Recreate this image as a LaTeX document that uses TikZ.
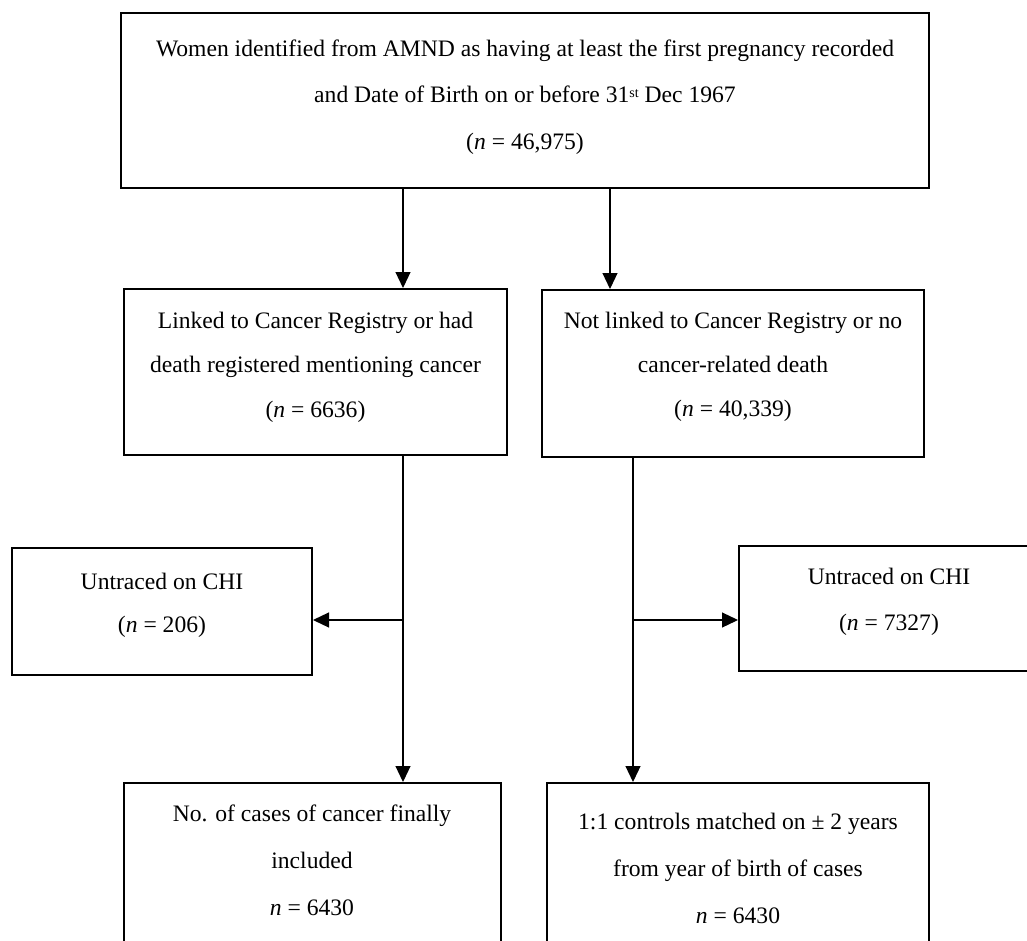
\documentclass[tikz,border=0pt]{standalone}
\usepackage{fontspec}
\setmainfont{Liberation Serif}
\usetikzlibrary{arrows.meta,fit}
\tikzset{
  boxnode/.style={draw=black, line width=1pt, inner sep=0pt, fill=none},
  txt/.style={align=center, inner sep=0pt, font=\fontsize{11.8}{#1}\selectfont},
  arr/.style={draw=black, line width=0.6pt, -{Triangle[length=8pt,width=7.5pt]}}
}
\begin{document}
\begin{tikzpicture}[x=0.5pt,y=-0.5pt]
\useasboundingbox (0,0) rectangle (1027,941);
\clip (0,0) rectangle (1027,941);
\fill[white] (0,0) rectangle (1027,941);
% boxes
\node[boxnode, fit={(121,13) (929,188)}] (top) {};
\node[boxnode, fit={(124,289) (507,455)}] (L2) {};
\node[boxnode, fit={(542,290) (924,457)}] (R2) {};
\node[boxnode, fit={(12,548) (312,675)}] (UL) {};
\node[boxnode, fit={(739,546) (1040,671)}] (UR) {};
\node[boxnode, fit={(124,783) (501,965)}] (BL) {};
\node[boxnode, fit={(547,783) (929,965)}] (BR) {};
% texts
\node[txt=23.25pt] (topT) at (525,97) {Women identified from AMND as having at least the first pregnancy recorded\\and Date of Birth on or before 31{\fontsize{7}{8}\selectfont\raisebox{0.35em}{st}} Dec 1967\\(\textit{n} = 46,975)};
\node[txt=22.2pt] (L2T) at (315.5,367) {Linked to Cancer Registry or had\\death registered mentioning cancer\\(\textit{n} = 6636)};
\node[txt=22pt] (R2T) at (733,367) {Not linked to Cancer Registry or no\\cancer-related death\\(\textit{n} = 40,339)};
\node[txt=21.5pt] (ULT) at (162,605) {Untraced on CHI\\(\textit{n} = 206)};
\node[txt=23pt] (URT) at (889,602) {Untraced on CHI\\(\textit{n} = 7327)};
\node[txt=23.5pt] (BLT) at (312,860) {No. of cases of cancer finally\\included\\\textit{n} = 6430};
\node[txt=23.5pt] (BRT) at (738,868) {1:1 controls matched on ± 2 years\\from year of birth of cases\\\textit{n} = 6430};
% connector guides
\coordinate (xL) at (403,0);
\coordinate (xR1) at (610,0);
\coordinate (xR2) at (633,0);
\coordinate (yS) at (0,620);
% connectors
\draw[arr] (top.south -| xL) -- (L2.north -| xL);
\draw[arr] (top.south -| xR1) -- (R2.north -| xR1);
\draw[arr] (L2.south -| xL) -- (BL.north -| xL);
\draw[arr] (R2.south -| xR2) -- (BR.north -| xR2);
\draw[arr] (xL |- yS) -- (UL.east |- yS);
\draw[arr] (xR2 |- yS) -- (UR.west |- yS);
\end{tikzpicture}
\end{document}
